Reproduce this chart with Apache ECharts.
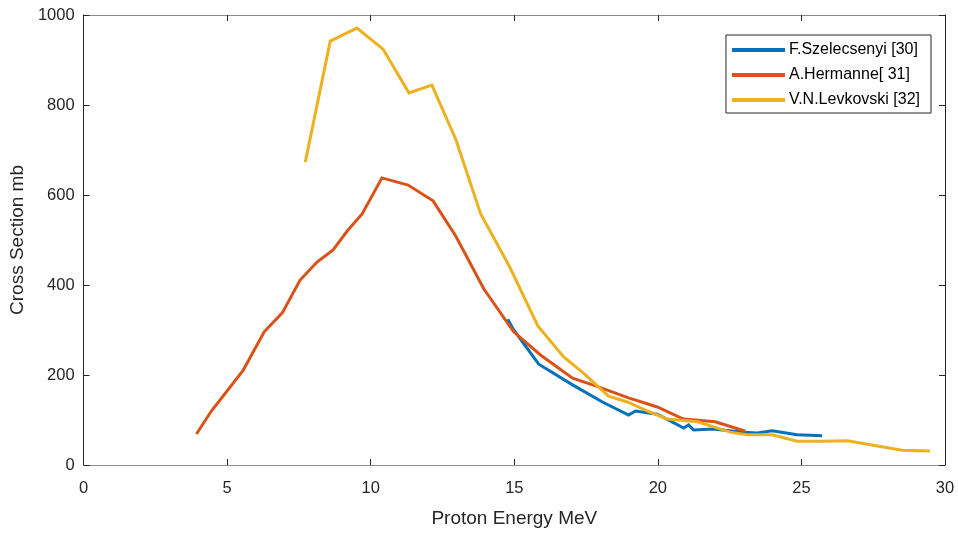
<!DOCTYPE html>
<html>
<head>
<meta charset="utf-8">
<script src="https://cdn.jsdelivr.net/npm/echarts@6/dist/echarts.min.js"></script>
<style>html,body{margin:0;padding:0;background:#fff}#c{width:958px;height:533px}</style>
</head>
<body>
<div id="c"></div>
<script>
const seriesNames = ['F.Szelecsenyi [30]', 'A.Hermanne[ 31]', 'V.N.Levkovski [32]'];
const szelEnergy = [14.77, 14.98, 15.85, 17.03, 18.07, 18.98, 19.22, 19.98, 20.9, 21.07, 21.24, 21.93, 22.97, 23.46, 23.98, 24.85, 25.72];
const szelValue  = [324, 300, 224, 178, 140, 111, 120, 113, 82, 89, 78, 80, 73, 71, 76, 67, 65];
const hermEnergy = [3.93, 4.45, 5.56, 6.29, 6.92, 7.54, 8.13, 8.69, 9.18, 9.7, 10.39, 11.3, 12.17, 12.96, 13.94, 14.98, 15.9, 17.03, 17.83, 18.98, 19.98, 20.89, 22.0, 23.05];
const hermValue  = [69, 120, 211, 296, 338, 411, 451, 478, 520, 558, 638, 622, 587, 509, 391, 296, 245, 193, 176, 149, 129, 102, 96, 75];
const levkEnergy = [7.72, 8.59, 9.52, 10.43, 11.33, 12.13, 12.96, 13.83, 14.84, 15.82, 16.72, 17.41, 18.28, 18.94, 19.64, 20.33, 21.38, 22.52, 23.1, 23.98, 24.85, 25.72, 26.6, 27.5, 28.5, 29.48];
const levkValue  = [673, 942, 971, 924, 827, 844, 724, 558, 440, 309, 240, 204, 153, 140, 120, 102, 96, 73, 67, 67, 53, 53, 54, 44, 33, 31];
const xTicks = [0, 5, 10, 15, 20, 25, 30];
const yTicks = [0, 200, 400, 600, 800, 1000];
const colors = ['#0072BD', '#D95319', '#EDB120'];

const zip = (a, b) => a.map((v, i) => [v, b[i]]);
const font = 'Liberation Sans, Arial, sans-serif';
const chart = echarts.init(document.getElementById('c'), null, {renderer: 'canvas'});
const axisCommon = {
  splitLine: {show: false},
  axisTick: {inside: true, length: 6, lineStyle: {color: '#262626', width: 1}},
};
chart.setOption({
  animation: false,
  backgroundColor: '#fff',
  grid: {left: 82, right: 13, top: 15, bottom: 67, containLabel: false},
  legend: {
    right: 27, top: 35,
    orient: 'vertical',
    itemWidth: 53, itemHeight: 4, itemGap: 9,
    backgroundColor: '#fff',
    borderColor: '#262626', borderWidth: 1,
    padding: [7, 11, 5, 6],
    textStyle: {fontFamily: font, fontSize: 16, color: '#000', padding: [0, 0, 0, -1]},
    icon: 'rect',
    data: seriesNames
  },
  xAxis: [
    Object.assign({
      type: 'value', min: 0, max: 30, interval: 5,
      name: 'Proton Energy MeV', nameLocation: 'middle', nameGap: 44,
      nameTextStyle: {fontFamily: font, fontSize: 19, color: '#262626'},
      axisLine: {show: true, onZero: false, lineStyle: {color: '#8c8c8c', width: 1}},
      axisLabel: {fontFamily: font, fontSize: 16.5, color: '#262626', margin: 15,
        formatter: v => xTicks.includes(v) ? String(v) : ''},
    }, axisCommon),
    Object.assign({
      type: 'value', min: 0, max: 30, interval: 5, position: 'top',
      axisLine: {show: true, onZero: false, lineStyle: {color: '#8c8c8c', width: 1}},
      axisLabel: {show: false},
    }, axisCommon)
  ],
  yAxis: [
    Object.assign({
      type: 'value', min: 0, max: 1000, interval: 200,
      name: 'Cross Section mb', nameLocation: 'middle', nameGap: 56,
      nameTextStyle: {fontFamily: font, fontSize: 19, color: '#262626'},
      axisLine: {show: true, onZero: false, lineStyle: {color: '#262626', width: 1}},
      axisLabel: {fontFamily: font, fontSize: 16.5, color: '#262626', margin: 9,
        formatter: v => yTicks.includes(v) ? String(v) : ''},
    }, axisCommon),
    Object.assign({
      type: 'value', min: 0, max: 1000, interval: 200, position: 'right',
      axisLine: {show: true, onZero: false, lineStyle: {color: '#262626', width: 1}},
      axisLabel: {show: false},
    }, axisCommon)
  ],
  series: [
    {name: seriesNames[0], type: 'line', data: zip(szelEnergy, szelValue)},
    {name: seriesNames[1], type: 'line', data: zip(hermEnergy, hermValue)},
    {name: seriesNames[2], type: 'line', data: zip(levkEnergy, levkValue)}
  ].map((s, i) => Object.assign(s, {
    showSymbol: false, symbol: 'none', color: colors[i],
    lineStyle: {color: colors[i], width: 3, join: 'miter'},
    xAxisIndex: 0, yAxisIndex: 0, z: 2 + i
  }))
});
</script>
</body>
</html>
